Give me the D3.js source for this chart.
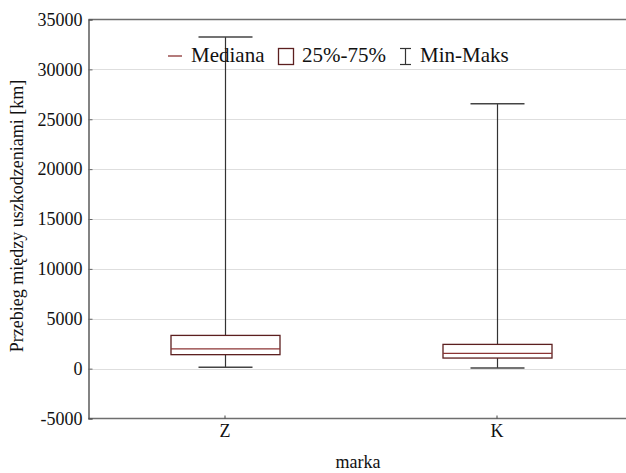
<!DOCTYPE html>
<html>
<head>
<meta charset="utf-8">
<script src="https://cdn.jsdelivr.net/npm/d3@7"></script>
<style>
  html, body { margin: 0; padding: 0; background: #fff; }
  svg { display: block; }
  svg text { font-family: "Liberation Serif", "Times New Roman", "DejaVu Serif", serif !important; fill: #111; }
</style>
</head>
<body>
<svg id="chart" width="626" height="473"></svg>
<script>
// Box-plot statistics per brand (km between failures)
const categories = ["Z", "K"];
const minValues    = [130, 60];
const q1Values     = [1400, 1060];
const medianValues = [1970, 1530];
const q3Values     = [3330, 2430];
const maxValues    = [33250, 26550];
const yTicks = [-5000, 0, 5000, 10000, 15000, 20000, 25000, 30000, 35000];

const svg = d3.select("#chart");
const W = 626, H = 473;
const plotLeft = 88.5, plotTop = 19.5, plotBottom = 418.5;

const y = d3.scaleLinear().domain([-5000, 35000]).range([plotBottom, plotTop]);
// categories sit at positions 1, 2 on a continuous axis starting at 0.5
const x = d3.scaleLinear().domain([0.5, 2]).range([plotLeft, 496.5]);

// gridlines
svg.append("g")
  .selectAll("line")
  .data(yTicks.filter(t => t > -5000 && t < 35000))
  .join("line")
  .attr("x1", plotLeft).attr("x2", W)
  .attr("y1", d => Math.round(y(d)) + 0.5).attr("y2", d => Math.round(y(d)) + 0.5)
  .attr("stroke", "#dedede").attr("stroke-width", 1);

// frame: top line and bottom axis line
svg.append("line").attr("x1", plotLeft).attr("x2", W).attr("y1", plotTop).attr("y2", plotTop)
  .attr("stroke", "#6e6e6e").attr("stroke-width", 1.5);
svg.append("line").attr("x1", plotLeft).attr("x2", W).attr("y1", plotBottom).attr("y2", plotBottom)
  .attr("stroke", "#6e6e6e").attr("stroke-width", 1.5);

// y axis (plain hyphen for negatives)
const yAxis = d3.axisLeft(y).tickValues(yTicks).tickSize(-4).tickPadding(6).tickFormat(d => String(d));
const gy = svg.append("g").attr("transform", `translate(${plotLeft},0)`).call(yAxis);
gy.attr("font-family", null).attr("font-size", null);
gy.select(".domain").attr("stroke", "#333").attr("stroke-width", 1.2);
gy.selectAll(".tick line").attr("stroke", "#666");
gy.selectAll(".tick text")
  .attr("x", -6)
  .style("font-size", "18px").attr("fill", "#111");

// x axis
const xAxis = d3.axisBottom(x).tickValues([1, 2]).tickSize(-3).tickPadding(6)
  .tickFormat((d) => categories[d - 1]);
const gx = svg.append("g").attr("transform", `translate(0,${plotBottom})`).call(xAxis);
gx.attr("font-family", null).attr("font-size", null);
gx.select(".domain").remove();
gx.selectAll(".tick line").attr("stroke", "#444");
gx.selectAll(".tick text")
  .style("font-size", "18px").attr("fill", "#111");

// boxes
const boxW = 109, capW = 54;
const data = categories.map((c, i) => ({
  pos: i + 1, min: minValues[i], q1: q1Values[i], med: medianValues[i], q3: q3Values[i], max: maxValues[i]
}));
const g = svg.append("g");
data.forEach(d => {
  const cx = Math.round(x(d.pos)) + 0.5;
  // whiskers
  g.append("line").attr("x1", cx).attr("x2", cx).attr("y1", y(d.max)).attr("y2", y(d.q3))
    .attr("stroke", "#333").attr("stroke-width", 1.2);
  g.append("line").attr("x1", cx).attr("x2", cx).attr("y1", y(d.q1)).attr("y2", y(d.min))
    .attr("stroke", "#333").attr("stroke-width", 1.2);
  g.append("line").attr("x1", cx - capW / 2).attr("x2", cx + capW / 2).attr("y1", y(d.max)).attr("y2", y(d.max))
    .attr("stroke", "#444").attr("stroke-width", 1.5);
  g.append("line").attr("x1", cx - capW / 2).attr("x2", cx + capW / 2).attr("y1", y(d.min)).attr("y2", y(d.min))
    .attr("stroke", "#444").attr("stroke-width", 1.5);
  // box
  g.append("rect").attr("x", cx - boxW / 2).attr("width", boxW)
    .attr("y", y(d.q3)).attr("height", y(d.q1) - y(d.q3))
    .attr("fill", "#fff").attr("stroke", "#5c1f1f").attr("stroke-width", 1.3);
  g.append("line").attr("x1", cx - boxW / 2).attr("x2", cx + boxW / 2).attr("y1", y(d.med)).attr("y2", y(d.med))
    .attr("stroke", "#8c3434").attr("stroke-width", 1.3);
});

// legend
const lg = svg.append("g");
const ly = 56;
lg.append("line").attr("x1", 168).attr("x2", 182).attr("y1", ly).attr("y2", ly)
  .attr("stroke", "#8c3434").attr("stroke-width", 1.3);
lg.append("text").attr("x", 191).attr("y", 62).style("font-size", "21px").text("Mediana");
lg.append("rect").attr("x", 278.5).attr("y", 48.5).attr("width", 15).attr("height", 16)
  .attr("fill", "none").attr("stroke", "#5c1f1f").attr("stroke-width", 1.3);
lg.append("text").attr("x", 302).attr("y", 62).style("font-size", "21px").text("25%-75%");
lg.append("line").attr("x1", 405.5).attr("x2", 405.5).attr("y1", 48.5).attr("y2", 64.5)
  .attr("stroke", "#333").attr("stroke-width", 1.2);
lg.append("line").attr("x1", 400).attr("x2", 411).attr("y1", 48.5).attr("y2", 48.5)
  .attr("stroke", "#333").attr("stroke-width", 1.2);
lg.append("line").attr("x1", 400).attr("x2", 411).attr("y1", 64.5).attr("y2", 64.5)
  .attr("stroke", "#333").attr("stroke-width", 1.2);
lg.append("text").attr("x", 420).attr("y", 62).style("font-size", "21px").text("Min-Maks");

// axis titles
svg.append("text").attr("transform", "translate(23,216) rotate(-90)")
  .attr("text-anchor", "middle").style("font-size", "18px")
  .text("Przebieg między uszkodzeniami [km]");
svg.append("text").attr("x", 358).attr("y", 468).attr("text-anchor", "middle")
  .style("font-size", "18px").text("marka");
</script>
</body>
</html>
